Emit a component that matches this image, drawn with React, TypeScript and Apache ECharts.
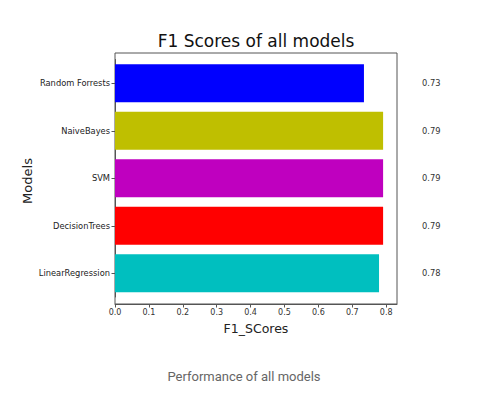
import React, { useEffect, useRef } from "react";
import * as echarts from "echarts";

const models = ["LinearRegression", "DecisionTrees", "SVM", "NaiveBayes", "Random Forrests"];
const f1Scores = [0.779, 0.791, 0.791, 0.791, 0.7345];
const scoreLabels = ["0.78", "0.79", "0.79", "0.79", "0.73"];
const barColors = ["#00bfbf", "#ff0000", "#bf00bf", "#bfbf00", "#0000ff"];
const xTicks = [0, 0.1, 0.2, 0.3, 0.4, 0.5, 0.6, 0.7, 0.8];

const FONT = "DejaVu Sans";

export default function App() {
  const ref = useRef<HTMLDivElement>(null);
  useEffect(() => {
    if (!ref.current) return;
    const chart = echarts.init(ref.current, null, { renderer: "svg" });
    const xMax = 0.832;
    chart.setOption({
      animation: false,
      backgroundColor: "#ffffff",
      title: {
        text: "F1 Scores of all models",
        left: 256,
        top: 32,
        padding: 0,
        textAlign: "center",
        textStyle: { fontFamily: FONT, fontSize: 17, fontWeight: "normal", color: "#111" },
      },
      grid: [
        { left: 115, right: 82, top: 53, bottom: 93, show: true, borderColor: "#555", borderWidth: 1, backgroundColor: "transparent" },
        { left: 115, right: 82, top: 59.5, bottom: 100 },
      ],
      xAxis: [
        {
          type: "value",
          gridIndex: 0,
          min: 0,
          max: xMax,
          interval: 0.1,
          name: "F1_SCores",
          nameLocation: "middle",
          nameGap: 18,
          nameTextStyle: { fontFamily: FONT, fontSize: 12.5, color: "#222" },
          axisLine: { show: true, lineStyle: { color: "#555" } },
          axisTick: { show: true, length: 3.5, lineStyle: { color: "#555" }, customValues: xTicks },
          axisLabel: {
            fontFamily: FONT,
            fontSize: 8,
            color: "#333",
            margin: 4,
            customValues: xTicks,
            formatter: (v: number) => v.toFixed(1),
          },
          splitLine: { show: false },
        },
        {
          type: "value",
          gridIndex: 1,
          min: 0,
          max: xMax,
          show: false,
        },
      ],
      yAxis: [
        { type: "value", gridIndex: 0, show: false },
        {
          type: "category",
          gridIndex: 1,
          data: models,
          axisLine: { show: true, lineStyle: { color: "#555" } },
          axisTick: { show: true, alignWithLabel: true, length: 3.5, lineStyle: { color: "#555" } },
          axisLabel: { fontFamily: FONT, fontSize: 8.3, color: "#222", margin: 5 },
        },
        {
          type: "category",
          gridIndex: 1,
          position: "right",
          data: scoreLabels,
          axisLine: { show: false },
          axisTick: { show: false },
          axisLabel: { fontFamily: FONT, fontSize: 8.3, color: "#333", margin: 25, align: "left", padding: [0, 0, 4, 0] },
        },
      ],
      series: [
        {
          type: "bar",
          xAxisIndex: 1,
          yAxisIndex: 1,
          data: f1Scores.map((v, i) => ({ value: v, itemStyle: { color: barColors[i] } })),
          barCategoryGap: "20%",
        },
      ],
      graphic: [
        {
          type: "text",
          x: 27,
          y: 181,
          rotation: Math.PI / 2,
          style: {
            text: "Models",
            fontFamily: FONT,
            fontSize: 13,
            fill: "#222",
            align: "center",
            verticalAlign: "middle",
          },
        },
        {
          type: "text",
          x: 244,
          y: 376,
          style: {
            text: "Performance of all models",
            fontFamily: "Roboto",
            fontSize: 13,
            fill: "#666",
            align: "center",
            verticalAlign: "middle",
          },
        },
      ],
    });
    return () => chart.dispose();
  }, []);
  return (
    <div
      ref={ref}
      style={{ position: "fixed", left: 0, top: 0, width: 479, height: 397, background: "#fff" }}
    />
  );
}
